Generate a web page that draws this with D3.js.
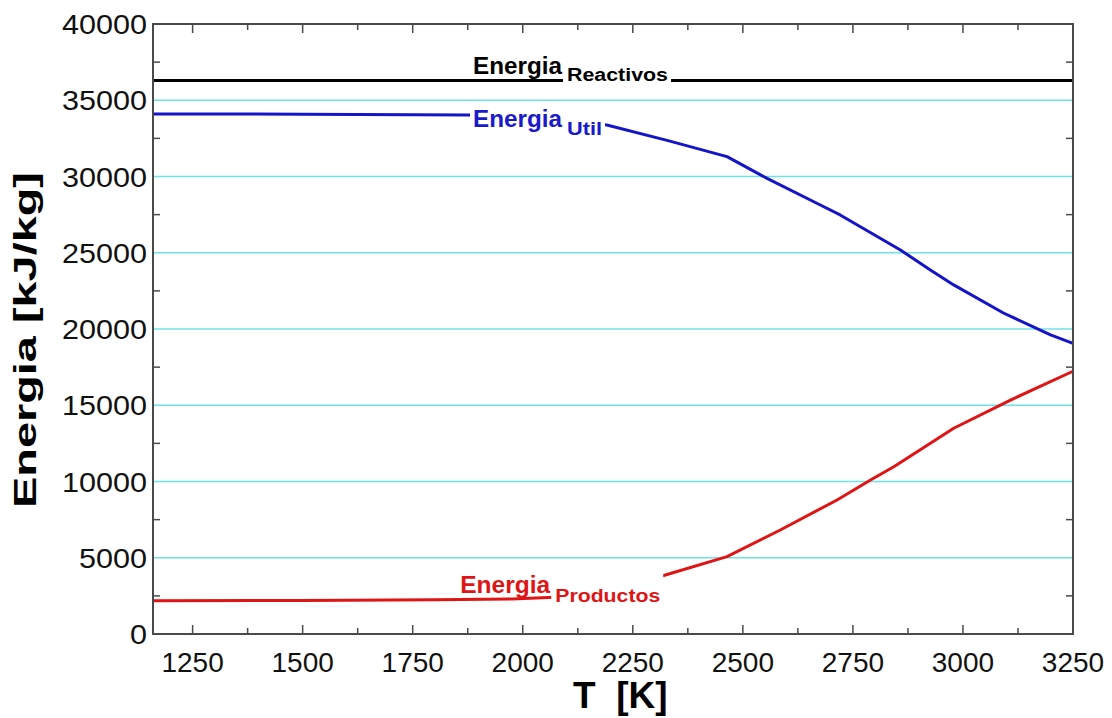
<!DOCTYPE html>
<html>
<head>
<meta charset="utf-8">
<script src="https://cdn.jsdelivr.net/npm/d3@7"></script>
<style>
  body { margin: 0; background: #fff; }
  svg { display: block; font-family: "Liberation Sans", Arial, sans-serif; }
</style>
</head>
<body>
<div id="chart"></div>
<script>
// values
var tReact = [1160, 3250];
var eReact = [36300, 36300];

var tUtil = [1160, 1500, 1875, 2000, 2100, 2191, 2330, 2464, 2555, 2676, 2721, 2858, 2926, 2979, 3092, 3199, 3250];
var eUtil = [34100, 34090, 34030, 33900, 33650, 33380, 32350, 31300, 29880, 28130, 27480, 25180, 23870, 22890, 21050, 19610, 19060];

var tProd = [1160, 1500, 1800, 1975, 2100, 2200, 2324, 2464, 2585, 2714, 2790, 2843, 2979, 3108, 3250];
var eProd = [2180, 2200, 2250, 2300, 2450, 2900, 3870, 5070, 6820, 8790, 10100, 10970, 13490, 15340, 17230];

var xTicks = [1250, 1500, 1750, 2000, 2250, 2500, 2750, 3000, 3250];
var yTicks = [0, 5000, 10000, 15000, 20000, 25000, 30000, 35000, 40000];

(function(){
  var width = 1112, height = 718;
  var margin = {top: 24, right: 39, bottom: 84, left: 153};

  var svg = d3.select("#chart")
    .append("svg")
      .attr("width", width)
      .attr("height", height);

  var x = d3.scaleLinear()
    .domain([1160, 3250])
    .range([margin.left, width - margin.right]);

  var y = d3.scaleLinear()
    .domain([0, 40000])
    .range([height - margin.bottom, margin.top]);

  // cyan gridlines
  svg.append("g")
    .selectAll("line")
    .data(yTicks.filter(function(d){ return d > 0 && d < 40000; }))
    .join("line")
      .attr("x1", x.range()[0])
      .attr("x2", x.range()[1])
      .attr("y1", function(d){ return y(d); })
      .attr("y2", function(d){ return y(d); })
      .attr("stroke", "#6fe2e6")
      .attr("stroke-width", 1.6);

  var series = [
    {t: tReact, e: eReact, color: "#000000"},
    {t: tUtil, e: eUtil, color: "#1414c8"},
    {t: tProd, e: eProd, color: "#e01414"}
  ];

  var line = d3.line()
    .x(function(d){ return x(d[0]); })
    .y(function(d){ return y(d[1]); });

  svg.append("g")
    .selectAll("path")
    .data(series)
    .join("path")
      .attr("d", function(s){ return line(d3.zip(s.t, s.e)); })
      .attr("fill", "none")
      .attr("stroke", function(s){ return s.color; })
      .attr("stroke-width", 3)
      .attr("stroke-linejoin", "round");

  // labels sit on white boxes, like the original plot program
  var labels = [
    {t: 1887, e: 36750, main: "Energia", sub: "Reactivos", color: "#000000", mainLen: 89, subLen: 101, dy: 7},
    {t: 1887, e: 33250, main: "Energia", sub: "Util", color: "#1a1acc", mainLen: 89, subLen: 35, dy: 8},
    {t: 1858, e: 2690, main: "Energia", sub: "Productos", color: "#dd1515", mainLen: 90, subLen: 105, dy: 9}
  ];

  var lg = svg.append("g");
  labels.forEach(function(l){
    var g = lg.append("g");
    var bx = x(l.t), by = y(l.e);
    var m = g.append("text")
      .attr("x", bx).attr("y", by)
      .attr("font-size", 23).attr("font-weight", "bold")
      .attr("fill", l.color)
      .attr("textLength", l.mainLen)
      .attr("lengthAdjust", "spacingAndGlyphs")
      .text(l.main);
    var s = g.append("text")
      .attr("x", bx + l.mainLen + 5).attr("y", by + l.dy)
      .attr("font-size", 18).attr("font-weight", "bold")
      .attr("fill", l.color)
      .attr("textLength", l.subLen)
      .attr("lengthAdjust", "spacingAndGlyphs")
      .text(l.sub);
    var b1 = m.node().getBBox(), b2 = s.node().getBBox();
    g.insert("rect", "text")
      .attr("x", b1.x - 3).attr("y", b1.y)
      .attr("width", b1.width + 8).attr("height", b1.height - 4)
      .attr("fill", "#fff");
    // subscript box reaches up to the top of the main word
    g.insert("rect", "text")
      .attr("x", b2.x - 4).attr("y", b1.y)
      .attr("width", b2.width + 7).attr("height", b2.y + b2.height + 1 - b1.y)
      .attr("fill", "#fff");
  });

  // frame
  svg.append("rect")
    .attr("x", x.range()[0])
    .attr("y", y.range()[1])
    .attr("width", x.range()[1] - x.range()[0])
    .attr("height", y.range()[0] - y.range()[1])
    .attr("fill", "none")
    .attr("stroke", "#4a4a4a")
    .attr("stroke-width", 2);

  // inward ticks on all four sides
  var xt = d3.range(1250, 3250, 125);
  var ticks = svg.append("g").attr("stroke", "#4a4a4a").attr("stroke-width", 1.5);
  ticks.selectAll(".xb")
    .data(xt).join("line")
      .attr("x1", function(d){ return x(d); }).attr("x2", function(d){ return x(d); })
      .attr("y1", y(0)).attr("y2", function(d){ return y(0) - (d % 250 === 0 ? 9 : 6); });
  ticks.selectAll(".xt")
    .data(xt).join("line")
      .attr("x1", function(d){ return x(d); }).attr("x2", function(d){ return x(d); })
      .attr("y1", y(40000)).attr("y2", function(d){ return y(40000) + (d % 250 === 0 ? 9 : 6); });
  var yt = d3.range(2500, 40000, 5000);
  ticks.selectAll(".yl")
    .data(yt).join("line")
      .attr("x1", x(1160)).attr("x2", x(1160) + 7)
      .attr("y1", function(d){ return y(d); }).attr("y2", function(d){ return y(d); });
  ticks.selectAll(".yr")
    .data(yt).join("line")
      .attr("x1", x(3250)).attr("x2", x(3250) - 7)
      .attr("y1", function(d){ return y(d); }).attr("y2", function(d){ return y(d); });

  // tick labels
  svg.append("g")
    .selectAll("text")
    .data(xTicks)
    .join("text")
      .attr("x", function(d){ return x(d); })
      .attr("y", y(0) + 38)
      .attr("text-anchor", "middle")
      .attr("font-size", 28)
      .attr("fill", "#111")
      .text(function(d){ return d; });

  svg.append("g")
    .selectAll("text")
    .data(yTicks)
    .join("text")
      .attr("x", x.range()[0] - 6)
      .attr("y", function(d){ return y(d) + 10; })
      .attr("text-anchor", "end")
      .attr("font-size", 28)
      .attr("fill", "#111")
      .attr("textLength", function(d){ return String(d).length * 17; })
      .attr("lengthAdjust", "spacingAndGlyphs")
      .text(function(d){ return d; });

  // axis titles
  svg.append("text")
    .attr("x", 573)
    .attr("y", 708)
    .attr("font-size", 37)
    .attr("font-weight", "bold")
    .style("white-space", "pre")
    .text("T  [K]");

  svg.append("text")
    .attr("transform", "translate(36,340)rotate(-90)")
    .attr("text-anchor", "middle")
    .attr("font-size", 31)
    .attr("font-weight", "bold")
    .attr("textLength", 336)
    .attr("lengthAdjust", "spacingAndGlyphs")
    .text("Energia [kJ/kg]");
})();
</script>
</body>
</html>
